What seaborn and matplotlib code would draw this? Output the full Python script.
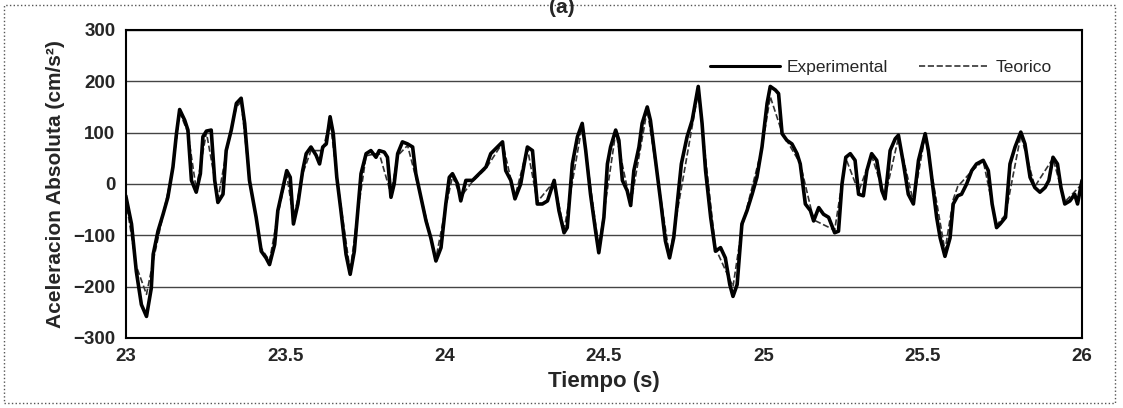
import pandas as pd
import matplotlib
matplotlib.use("Agg")
import matplotlib.pyplot as plt
import seaborn as sns
from matplotlib.patches import Rectangle

# Experimental series
exp_t = [23.000, 23.018, 23.033, 23.049, 23.065, 23.080, 23.086, 23.101, 23.117, 23.132,
         23.148, 23.159, 23.169, 23.185, 23.195, 23.206, 23.221, 23.234, 23.242, 23.253,
         23.268, 23.279, 23.289, 23.305, 23.315, 23.331, 23.347, 23.362, 23.373, 23.388,
         23.409, 23.425, 23.440, 23.451, 23.467, 23.477, 23.493, 23.505, 23.516, 23.526,
         23.540, 23.555, 23.566, 23.581, 23.597, 23.608, 23.618, 23.629, 23.641, 23.651,
         23.662, 23.675, 23.691, 23.704, 23.717, 23.728, 23.738, 23.754, 23.769, 23.785,
         23.795, 23.811, 23.821, 23.832, 23.842, 23.853, 23.868, 23.884, 23.900, 23.910,
         23.926, 23.942, 23.957, 23.973, 23.989, 24.004, 24.015, 24.025, 24.041, 24.051,
         24.067, 24.088, 24.109, 24.130, 24.145, 24.161, 24.182, 24.192, 24.208, 24.221,
         24.239, 24.250, 24.260, 24.276, 24.291, 24.307, 24.323, 24.344, 24.359, 24.375,
         24.385, 24.401, 24.417, 24.432, 24.443, 24.458, 24.474, 24.484, 24.500, 24.511,
         24.521, 24.537, 24.547, 24.558, 24.573, 24.584, 24.594, 24.610, 24.620, 24.636,
         24.646, 24.662, 24.678, 24.693, 24.706, 24.719, 24.730, 24.743, 24.761, 24.777,
         24.796, 24.808, 24.819, 24.835, 24.850, 24.866, 24.881, 24.895, 24.905, 24.918,
         24.933, 24.949, 24.965, 24.980, 24.996, 25.012, 25.022, 25.038, 25.048, 25.059,
         25.074, 25.090, 25.106, 25.116, 25.132, 25.148, 25.158, 25.174, 25.189, 25.205,
         25.224, 25.236, 25.247, 25.259, 25.273, 25.288, 25.299, 25.314, 25.325, 25.340,
         25.356, 25.372, 25.382, 25.398, 25.414, 25.424, 25.440, 25.455, 25.471, 25.487,
         25.508, 25.518, 25.531, 25.544, 25.555, 25.570, 25.586, 25.596, 25.610, 25.622,
         25.638, 25.654, 25.669, 25.690, 25.706, 25.718, 25.732, 25.743, 25.760, 25.774,
         25.790, 25.808, 25.821, 25.837, 25.852, 25.868, 25.884, 25.896, 25.909, 25.923,
         25.934, 25.946, 25.962, 25.977, 25.986, 26.000]
exp_v = [-23, -78, -170, -235, -258, -203, -137, -92, -59, -26,
         33, 98, 145, 124, 105, 7, -16, 20, 92, 103,
         105, 7, -36, -20, 65, 105, 157, 167, 118, 7,
         -65, -131, -144, -157, -118, -52, -7, 26, 13, -78,
         -39, 26, 59, 72, 56, 39, 72, 78, 131, 98,
         13, -52, -137, -176, -131, -52, 20, 59, 65, 52,
         65, 62, 52, -26, 0, 59, 82, 78, 72, 20,
         -26, -72, -105, -150, -124, -39, 13, 20, 0, -33,
         7, 7, 20, 33, 59, 69, 82, 26, 7, -29,
         0, 39, 72, 65, -39, -39, -33, 7, -52, -95,
         -85, 39, 92, 118, 65, -20, -92, -134, -65, 39,
         72, 105, 85, 7, -13, -42, 26, 72, 118, 150,
         124, 46, -33, -111, -144, -105, -39, 39, 92, 124,
         190, 118, 26, -65, -131, -124, -144, -196, -219, -196,
         -78, -52, -20, 13, 72, 157, 190, 183, 176, 98,
         85, 78, 59, 39, -39, -52, -72, -46, -59, -65,
         -95, -92, 0, 52, 59, 46, -20, -23, 26, 59,
         46, -13, -29, 65, 88, 95, 39, -20, -39, 46,
         98, 65, 0, -65, -105, -141, -105, -39, -23, -20,
         0, 26, 39, 46, 26, -39, -85, -78, -65, 39,
         72, 101, 78, 13, -7, -16, -7, 7, 52, 39,
         -7, -39, -33, -20, -39, 7]

# Teorico series (dashed), mostly hidden under the experimental trace
teo_t = [23.000, 23.033, 23.065, 23.086, 23.117, 23.148, 23.169, 23.195, 23.221, 23.253,
         23.279, 23.289, 23.315, 23.347, 23.362, 23.388, 23.425, 23.451, 23.477, 23.505,
         23.526, 23.555, 23.581, 23.618, 23.641, 23.662, 23.704, 23.728, 23.754, 23.795,
         23.832, 23.853, 23.884, 23.926, 23.973, 24.004, 24.025, 24.051, 24.088, 24.130,
         24.182, 24.221, 24.260, 24.291, 24.344, 24.375, 24.432, 24.484, 24.537, 24.584,
         24.636, 24.706, 24.796, 24.850, 24.905, 24.933, 24.996, 25.022, 25.059, 25.116,
         25.158, 25.224, 25.259, 25.299, 25.340, 25.382, 25.424, 25.471, 25.508, 25.570,
         25.596, 25.610, 25.654, 25.690, 25.732, 25.760, 25.808, 25.852, 25.909, 25.946,
         26.000]
teo_v = [-30, -160, -215, -150, -60, 30, 140, 100, -10, 100,
         10, -30, 60, 150, 160, 10, -125, -150, -60, 20,
         -70, 20, 65, 65, 125, 15, -170, -55, 55, 60,
         -20, 55, 75, -25, -145, -45, 15, -25, 5, 30,
         80, -25, 70, -35, 5, -90, 115, -125, 100, -40,
         145, -140, 180, -125, -200, -85, 70, 170, 100, 40,
         -70, -90, 50, -15, 55, -25, 90, -35, 95, -130,
         -30, -5, 25, 45, -80, -60, 95, -5, 50, -35,
         0]

y_ticks = [-300, -200, -100, 0, 100, 200, 300]
x_ticks = [23, 23.5, 24, 24.5, 25, 25.5, 26]

exp_df = pd.DataFrame({"Tiempo": exp_t, "Aceleracion": exp_v})
teo_df = pd.DataFrame({"Tiempo": teo_t, "Aceleracion": teo_v})

sns.set_style("white")
plt.rcParams['font.family'] = ['Liberation Sans', 'DejaVu Sans']

fig = plt.figure(figsize=(11.23, 4.08), dpi=100)
ax = fig.add_axes([0.112, 0.1716, 0.8515, 0.755])

sns.lineplot(data=teo_df, x="Tiempo", y="Aceleracion", ax=ax, color="#333333",
             linestyle="--", linewidth=1.2, sort=False, estimator=None, label="Teorico")
sns.lineplot(data=exp_df, x="Tiempo", y="Aceleracion", ax=ax, color="black",
             linewidth=2.6, sort=False, estimator=None, label="Experimental")

ax.set_xlim(23, 26)
ax.set_ylim(-300, 300)
ax.set_xticks(x_ticks)
ax.set_xticklabels([f"{t:g}" for t in x_ticks])
ax.set_yticks(y_ticks)
ax.grid(axis="y", color="#444444", linewidth=1.0)
ax.grid(axis="x", visible=False)
for s in ax.spines.values():
    s.set_color("black")
    s.set_linewidth(1.5)
ax.tick_params(axis="both", direction="out", length=4, width=1.2, color="black",
               labelsize=13.5)
for lab in ax.get_xticklabels() + ax.get_yticklabels():
    lab.set_fontweight("bold")

ax.set_xlabel("Tiempo (s)", fontsize=16, fontweight="bold", labelpad=4)
ax.set_ylabel("Aceleracion Absoluta (cm/s²)", fontsize=15, fontweight="bold", labelpad=6)

handles, labels = ax.get_legend_handles_labels()
order = [labels.index("Experimental"), labels.index("Teorico")]
leg = ax.legend([handles[i] for i in order], [labels[i] for i in order], ncol=2,
                loc="upper right", bbox_to_anchor=(0.985, 0.955), frameon=False,
                fontsize=12.5, handlelength=4.0, columnspacing=1.8, handletextpad=0.4)
leg.get_lines()[0].set_linewidth(2.2)

# dotted outer border and the panel title at the top edge
fig.patches.append(Rectangle((0.004, 0.012), 0.989, 0.975, transform=fig.transFigure,
                             fill=False, edgecolor="#555555", linestyle=":", linewidth=1.0))
fig.text(0.5, 0.982, "(a)", ha="center", va="center", fontsize=15, fontweight="bold")

fig.savefig("out.png", dpi=100)
